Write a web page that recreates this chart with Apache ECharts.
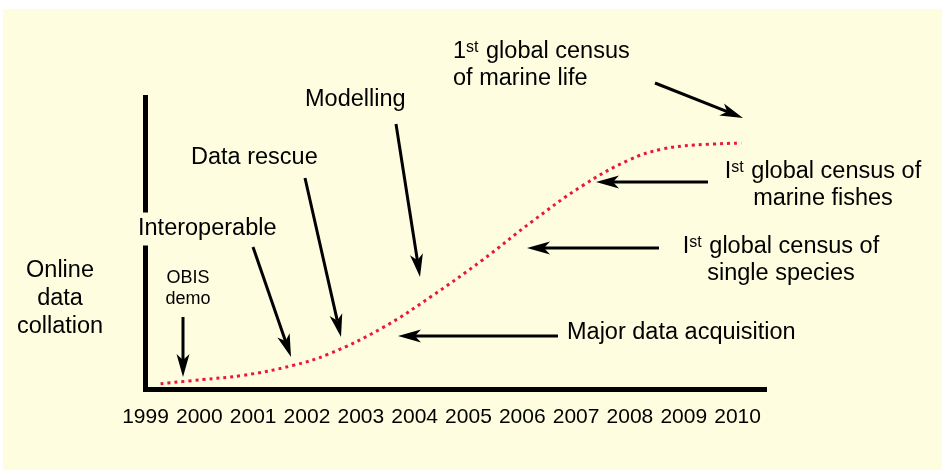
<!DOCTYPE html>
<html>
<head>
<meta charset="utf-8">
<script src="https://cdn.jsdelivr.net/npm/echarts@6/dist/echarts.min.js"></script>
<style>
  html, body { margin: 0; padding: 0; background: #fff; }
  #chart { width: 942px; height: 470px; }
</style>
</head>
<body>
<div id="chart"></div>
<script>
// data (x in years, y as share of the axis height)
const years = [1999, 2000, 2001, 2002, 2003, 2004, 2005, 2006, 2007, 2008, 2009, 2010];
const curveX = [1999.28, 2000.06, 2000.8, 2001.73, 2002.41, 2003.4, 2004.32, 2005.25, 2006.18, 2007.11, 2007.98, 2008.59, 2009.2, 2010.07];
const curveY = [2.0, 3.4, 4.8, 8.2, 12.2, 21.1, 32.0, 44.2, 57.5, 69.7, 78.6, 82.3, 83.7, 84.4];

const BG = "#fefddf";
const FONT = "Liberation Sans, Arial, Helvetica, sans-serif";

const chart = echarts.init(document.getElementById("chart"));

/**
 * arrow from (x1,y1) to the tip (x2,y2)
 */
function arrow(x1, y1, x2, y2) {
  const L = 23, W = 6.5, N = 6;
  const dx = x2 - x1, dy = y2 - y1;
  const len = Math.hypot(dx, dy);
  const ux = dx / len, uy = dy / len;
  const px = -uy, py = ux;
  const bx = x2 - ux * L, by = y2 - uy * L;
  const nx = x2 - ux * (L - N), ny = y2 - uy * (L - N);
  return [
    {
      type: "line",
      z: 50,
      shape: { x1: x1, y1: y1, x2: nx, y2: ny },
      style: { stroke: "#000", lineWidth: 3 },
    },
    {
      type: "polygon",
      z: 50,
      shape: {
        points: [[x2, y2], [bx + px * W, by + py * W], [nx, ny], [bx - px * W, by - py * W]],
      },
      style: { fill: "#000" },
    },
  ];
}

function label(text, x, y, align, opts) {
  return {
    type: "text",
    z: 60,
    x: x,
    y: y,
    style: Object.assign(
      {
        text: text,
        font: "23.5px " + FONT,
        fill: "#000",
        align: align,
        verticalAlign: "middle",
        lineHeight: 27,
        rich: {
          sup: { fontSize: 16, fontFamily: FONT, verticalAlign: "top", lineHeight: 16, padding: [2, 1, 0, 0] },
        },
      },
      opts || {}
    ),
  };
}

const graphics = [
  {
    type: "rect",
    z: -10,
    shape: { x: 3, y: 9, width: 942, height: 470 },
    style: { fill: BG },
  },
  label("Online\ndata\ncollation", 60, 299, "center", { lineHeight: 28 }),
  label("OBIS\ndemo", 188, 289, "center", { font: "18px " + FONT, lineHeight: 21 }),
  label("Interoperable", 134, 229, "left", { backgroundColor: BG, padding: [3, 4] }),
  label("Data rescue", 191, 158, "left"),
  label("Modelling", 305, 100, "left"),
  label("1{sup|st} global census\nof marine life", 453, 65, "left"),
  label("I{sup|st} global census of\nmarine fishes", 823, 185, "center"),
  label("I{sup|st} global census of\nsingle species", 781, 260, "center"),
  label("Major data acquisition", 567, 333, "left"),
]
  .concat(arrow(183, 317, 183, 377))
  .concat(arrow(253, 247, 291, 357))
  .concat(arrow(305, 178, 341, 337))
  .concat(arrow(396, 124, 420, 277))
  .concat(arrow(558, 336, 398, 336))
  .concat(arrow(659, 248, 527, 248))
  .concat(arrow(708, 182, 596, 182))
  .concat(arrow(655, 83, 743, 118));

chart.setOption({
  animation: false,
  backgroundColor: "#fff",
  grid: { left: 145.5, right: 177.5, top: 97.5, bottom: 80.5 },
  xAxis: {
    type: "value",
    min: years[0],
    max: 2010.5,
    interval: 1,
    axisLine: { lineStyle: { color: "#000", width: 5, cap: "square" } },
    axisTick: { show: false },
    splitLine: { show: false },
    axisLabel: {
      showMaxLabel: false,
      margin: 17,
      fontSize: 21,
      fontFamily: FONT,
      color: "#000",
      formatter: (v) => (years.indexOf(v) >= 0 ? String(v) : ""),
    },
  },
  yAxis: {
    type: "value",
    min: 0,
    max: 100,
    axisLine: { show: true, lineStyle: { color: "#000", width: 5, cap: "square" } },
    axisTick: { show: false },
    axisLabel: { show: false },
    splitLine: { show: false },
  },
  graphic: graphics,
  series: [
    {
      type: "line",
      data: curveX.map((x, i) => [x, curveY[i]]),
      smooth: 0.4,
      symbol: "none",
      lineStyle: { color: "#e8173f", width: 3, type: [3, 4] },
    },
  ],
});
</script>
</body>
</html>
